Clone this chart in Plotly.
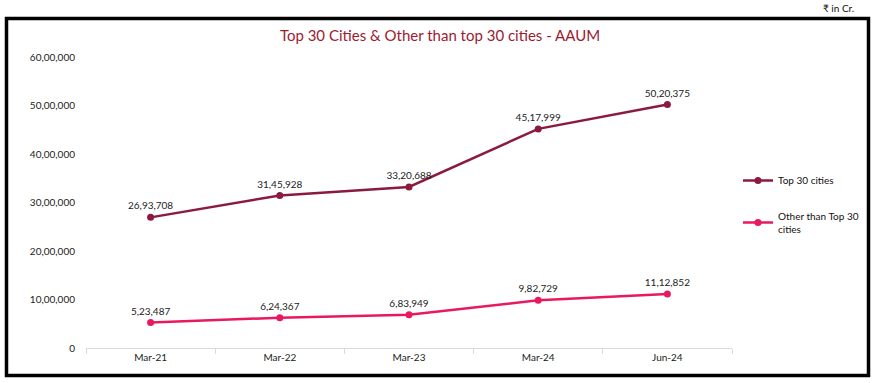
import plotly.graph_objects as go

categories = ["Mar-21", "Mar-22", "Mar-23", "Mar-24", "Jun-24"]
top30 = [2693708, 3145928, 3320688, 4517999, 5020375]
other = [523487, 624367, 683949, 982729, 1112852]
ytick_vals = [0, 1000000, 2000000, 3000000, 4000000, 5000000, 6000000]


def indian(n):
    s = str(int(n))
    if len(s) <= 3:
        return s
    last3 = s[-3:]
    rest = s[:-3]
    parts = []
    while len(rest) > 2:
        parts.insert(0, rest[-2:])
        rest = rest[:-2]
    if rest:
        parts.insert(0, rest)
    return ",".join(parts) + "," + last3


c_top = "#8B1A3F"
c_oth = "#E8195F"
FONT = "Lato, 'Open Sans', sans-serif"

fig = go.Figure()
fig.add_trace(go.Scatter(
    x=categories, y=top30, name="Top 30 cities", mode="lines+markers+text",
    line=dict(color=c_top, width=2.5), marker=dict(color=c_top, size=7),
    text=[indian(v) for v in top30], textposition="top center",
    textfont=dict(size=10, color="#222222", family=FONT), legendgroup="a",
))
fig.add_trace(go.Scatter(
    x=categories, y=other, name="Other than Top 30<br>cities", mode="lines+markers+text",
    line=dict(color=c_oth, width=2.5), marker=dict(color=c_oth, size=7),
    text=[indian(v) for v in other], textposition="top center",
    textfont=dict(size=10, color="#222222", family=FONT), legendgroup="b",
))

L, R, T, B = 86, 732, 57, 348
W, H = 874, 383
pw, ph = R - L, B - T


def px(x):
    return (x - L) / pw


def py(y):
    return (B - y) / ph


fig.update_layout(
    width=W, height=H,
    margin=dict(l=L, r=W - R, t=T, b=H - B, pad=0, autoexpand=False),
    paper_bgcolor="white", plot_bgcolor="white",
    font=dict(family=FONT, size=10, color="#222222"),
    showlegend=True,
    legend=dict(x=px(738), y=py(166), xanchor="left", yanchor="top",
                font=dict(size=10, color="#111111", family=FONT),
                tracegroupgap=18, itemwidth=30, bgcolor="rgba(0,0,0,0)"),
    xaxis=dict(range=[-0.5, 4.5], showgrid=False, showline=True, linecolor="#d9d9d9",
               linewidth=1, ticks="outside", tickson="boundaries", ticklen=5,
               tickcolor="#d9d9d9", tickfont=dict(size=10, color="#222222"),
               zeroline=False, fixedrange=True),
    yaxis=dict(range=[0, 6000000], tickvals=ytick_vals,
               ticktext=[indian(v) for v in ytick_vals], showgrid=False,
               showline=False, zeroline=False, ticks="", ticklabelstandoff=10,
               tickfont=dict(size=10, color="#222222")),
    title=dict(text="Top 30 Cities & Other than top 30 cities - AAUM",
               x=440 / W, xanchor="center", xref="container", y=1 - 36 / H, yanchor="middle",
               font=dict(size=15, color="#9B1B30", family=FONT)),
)

fig.add_shape(type="rect", xref="paper", yref="paper",
              x0=px(6.5), x1=px(868.5), y0=py(375.5), y1=py(18.5),
              line=dict(color="black", width=3.5), fillcolor="rgba(0,0,0,0)")

fig.add_annotation(text="₹ in Cr.", xref="paper", yref="paper", x=px(856), y=py(8),
                   xanchor="right", yanchor="middle", showarrow=False,
                   font=dict(size=10, color="#111111", family=FONT))

fig.write_html("out.html", post_script="document.body.style.margin='0';",
               config={"displayModeBar": False})
